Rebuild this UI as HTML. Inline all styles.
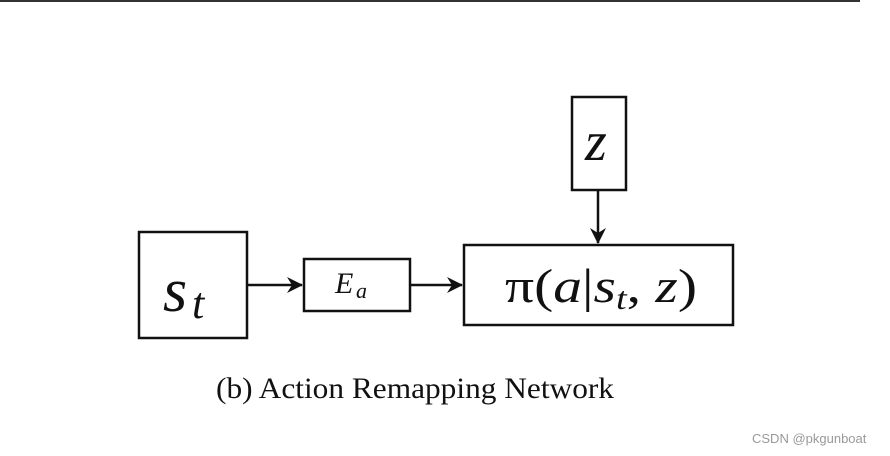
<!DOCTYPE html>
<html><head><style>
body{margin:0;width:890px;height:456px;background:#fff;overflow:hidden;position:relative}
</style></head><body>
<svg width="890" height="456" style="position:absolute;left:0;top:0">
<defs><marker id="a" markerWidth="16" markerHeight="16" refX="15" refY="8" orient="auto" markerUnits="userSpaceOnUse"><path d="M0,0 L16,8 L0,16 L5,8 Z" fill="#111"/></marker></defs>
<rect x="0" y="0" width="860" height="2" fill="#333"/>
<g fill="none" stroke="#111" stroke-width="2.5">
<rect x="139" y="232" width="108" height="106"/>
<rect x="304" y="259" width="106" height="52"/>
<rect x="464" y="245" width="269" height="80"/>
<rect x="572" y="97" width="54" height="93"/>
<line x1="247" y1="285" x2="302" y2="285" marker-end="url(#a)"/>
<line x1="410" y1="285" x2="462" y2="285" marker-end="url(#a)"/>
<line x1="598" y1="190" x2="598" y2="243" marker-end="url(#a)"/>
</g>
<g font-family="Liberation Serif, serif" font-style="italic" fill="#111">
<text x="163" y="311" font-size="62">s</text><text x="192" y="318" font-size="44">t</text>
<text x="335" y="293" font-size="30">E</text><text x="356" y="298" font-size="22">a</text>
<text x="505" y="302" font-size="48" textLength="192" lengthAdjust="spacingAndGlyphs"><tspan font-style="normal">π(</tspan>a<tspan font-style="normal">|</tspan>s<tspan font-size="32" dy="7">t</tspan><tspan dy="-7" font-style="normal">, </tspan>z<tspan font-style="normal">)</tspan></text>
<text x="585" y="160" font-size="56">z</text>
</g>
<text x="216" y="398" font-family="Liberation Serif, serif" font-size="30" fill="#111" textLength="398" lengthAdjust="spacingAndGlyphs">(b) Action Remapping Network</text>
<text x="752" y="443" font-family="Liberation Sans, sans-serif" font-size="13" fill="#999">CSDN @pkgunboat</text>
</svg>
</body></html>
